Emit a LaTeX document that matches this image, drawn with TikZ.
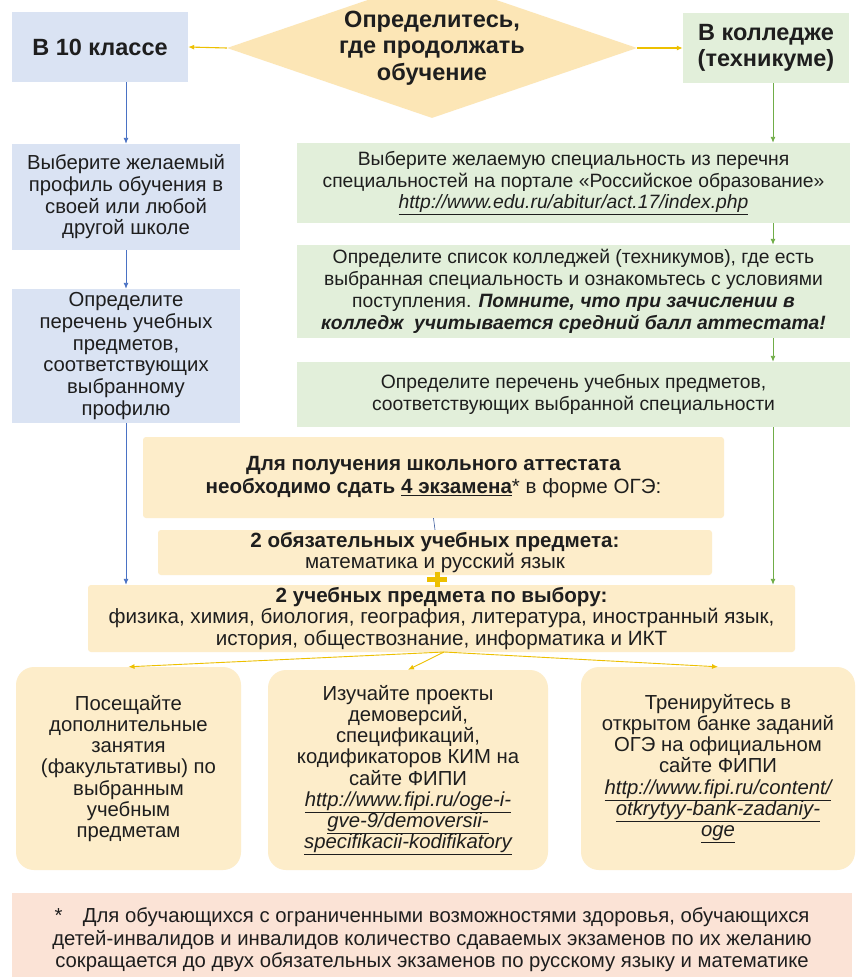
\documentclass[tikz,border=0pt]{standalone}
\usepackage{fontspec}
\setmainfont{Liberation Sans}
\usetikzlibrary{shapes.geometric,arrows.meta,calc}
\definecolor{blueF}{HTML}{DAE3F3}
\definecolor{greenF}{HTML}{E2EFDA}
\definecolor{yelF}{HTML}{FDEDCA}
\definecolor{diaF}{HTML}{FCE6B6}
\definecolor{peachF}{HTML}{FBE3D6}
\definecolor{blueA}{HTML}{4A72C4}
\definecolor{greenA}{HTML}{70AD47}
\definecolor{goldA}{HTML}{EDC000}
\definecolor{txt}{HTML}{1E1E1E}
\newcommand{\ulx}[1]{\underline{#1}}
\newcommand{\fsz}[2]{\fontsize{#1}{#2}\selectfont}
\begin{document}
\begin{tikzpicture}[x=1pt,y=-1pt,
  base/.style={inner sep=0pt, align=center, text=txt},
  bl/.style={base, fill=blueF, font=\fsz{20.3}{21.7}},
  gr/.style={base, fill=greenF, font=\fsz{19.3}{21.8}},
  ye/.style={base, fill=yelF, rounded corners=3pt, font=\fsz{20.6}{21.8}},
  yr/.style={base, fill=yelF, rounded corners=18pt, font=\fsz{20.3}{21.2}},
  head/.style={font=\fsz{23.5}{25.5}\bfseries},
  tipk/.style={-{Latex[length=6pt,width=5pt]}},
  ba/.style={tipk, draw=blueA, line width=0.9pt},
  ga/.style={tipk, draw=greenA, line width=0.9pt},
  ya/.style={tipk, draw=goldA, line width=1.1pt},
]
\clip (0,0) rectangle (859,977);
\fill[white] (0,0) rectangle (859,977);

% top row
\node[diamond, aspect=2.9, minimum width=410pt, minimum height=140pt, inner sep=0pt,
      fill=diaF, align=center, text=txt, font=\fsz{23.5}{26.5}\bfseries]
      (dia) at (432,48) {Определитесь,\\где продолжать\\обучение};
\node[bl, head, minimum width=176pt, minimum height=70pt]
      (b10) at (100,47) {В 10 классе};
\node[gr, head, minimum width=166pt, minimum height=70pt]
      (col) at (766,48) {В колледже\\(техникуме)};

% left column
\node[bl, minimum width=228pt, minimum height=106pt] (lb1) at (126,197)
  {Выберите желаемый\\профиль обучения в\\своей или любой\\другой школе};
\node[bl, minimum width=228pt, minimum height=134pt] (lb2) at (126,356)
  {Определите\\перечень учебных\\предметов,\\соответствующих\\выбранному\\профилю};

% right column
\node[gr, minimum width=553pt, minimum height=80pt] (rb1) at (573.5,183)
  {Выберите желаемую специальность из перечня\\специальностей на портале «Российское образование»\\\ulx{\itshape http://www.edu.ru/abitur/act.17/index.php}};
\node[gr, minimum width=553pt, minimum height=93pt] (rb2) at (573.5,291.5)
  {Определите список колледжей (техникумов), где есть\\выбранная специальность и ознакомьтесь с условиями\\поступления. {\bfseries\itshape Помните, что при зачислении в}\\{\bfseries\itshape колледж\ \ учитывается средний балл аттестата!}};
\node[gr, minimum width=553pt, minimum height=65pt] (rb3) at (573.5,394.5)
  {Определите перечень учебных предметов,\\соответствующих выбранной специальности};

% middle
\node[ye, minimum width=581pt, minimum height=81pt, font=\fsz{20.6}{23}] (bA) at (433.5,477.5)
  {{\bfseries Для получения школьного аттестата}\\{\bfseries необходимо сдать \ulx{4 экзамена}}* в форме ОГЭ:};
\node[ye, minimum width=554pt, minimum height=45pt] (bB) at (435,552.5)
  {{\bfseries 2 обязательных учебных предмета:}\\математика и русский язык};
\node[ye, minimum width=707pt, minimum height=67pt] (bC) at (441.5,618.5)
  {{\bfseries 2 учебных предмета по выбору:}\\физика, химия, биология, география, литература, иностранный язык,\\история, обществознание, информатика и ИКТ};
\draw[line width=5pt, goldA] (427,579.5) -- (447,579.5) (437,572) -- (437,587);

% bottom boxes
\node[yr, minimum width=225pt, minimum height=203pt] (bL) at (128.5,768.5)
  {Посещайте\\дополнительные\\занятия\\(факультативы) по\\выбранным\\учебным\\предметам};
\node[yr, minimum width=280pt, minimum height=200pt] (bM) at (408,770)
  {Изучайте проекты\\демоверсий,\\спецификаций,\\кодификаторов КИМ на\\сайте ФИПИ\\{\itshape\ulx{http://www.fipi.ru/oge-i-}}\\{\itshape\ulx{gve-9/demoversii-}}\\{\itshape\ulx{specifikacii-kodifikatory}}};
\node[yr, minimum width=274pt, minimum height=203pt] (bR) at (718,768.5)
  {Тренируйтесь в\\открытом банке заданий\\ОГЭ на официальном\\сайте ФИПИ\\{\itshape\ulx{http://www.fipi.ru/content/}}\\{\itshape\ulx{otkrytyy-bank-zadaniy-}}\\{\itshape\ulx{oge}}};

% footnote
\node[base, fill=peachF, minimum width=840pt, minimum height=94pt, font=\fsz{20.3}{22.5}]
  (fn) at (432,940)
  {*\quad Для обучающихся с ограниченными возможностями здоровья, обучающихся\\детей-инвалидов и инвалидов количество сдаваемых экзаменов по их желанию\\сокращается до двух обязательных экзаменов по русскому языку и математике};

% connectors
\draw[ya] (dia.west) -- (b10.east);
\draw[ya] (dia.east) -- (col.west);
\draw[ba] (b10.south -| lb1.north) -- (lb1.north);
\draw[ba] (lb1.south) -- (lb2.north);
\draw[ba] (lb2.south) -- (lb2.south |- bC.north);
\coordinate (gx) at (773,0);
\draw[ga] (col.south -| gx) -- (rb1.north -| gx);
\draw[ga] (rb1.south -| gx) -- (rb2.north -| gx);
\draw[ga] (rb2.south -| gx) -- (rb3.north -| gx);
\draw[ga] (rb3.south -| gx) -- (bC.north -| gx);
\draw[draw=blueA!80!black, line width=0.6pt] (bA.south) -- (bB.north);
\coordinate (fan) at (444,652);
\draw[ya, line width=0.9pt] (fan) -- (bL.north);
\draw[ya, line width=0.9pt] (fan) -- (bM.north);
\draw[ya, line width=0.9pt] (fan) -- (bR.north);
\end{tikzpicture}
\end{document}
